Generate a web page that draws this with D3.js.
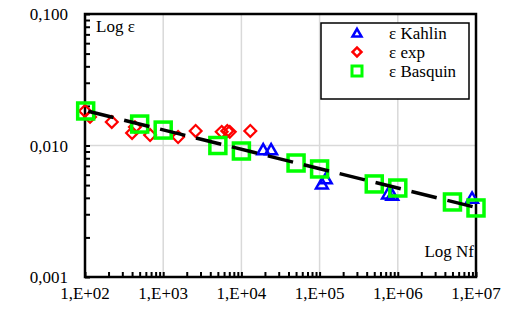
<!DOCTYPE html>
<html>
<head>
<meta charset="utf-8">
<script src="https://cdn.jsdelivr.net/npm/d3@7"></script>
<style>
  body { margin: 0; background: #fff; }
  text { font-family: "Liberation Serif", "Times New Roman", serif; }
</style>
</head>
<body>
<svg id="chart" width="525" height="326"></svg>
<script>
// Kahlin strain (triangles)
kahlinN = [19000, 24000, 107000, 120000, 750000, 850000, 8900000]
kahlinE = [0.0091, 0.0091, 0.0050, 0.00547, 0.0042, 0.0041, 0.0039]

// experimental strain (diamonds)
expN = [100, 116, 220, 400, 435, 680, 1550, 2600, 5600, 6600, 7100, 13000]
expE = [0.0183, 0.0165, 0.0151, 0.01245, 0.0138, 0.0120, 0.0116, 0.0129, 0.0127, 0.0129, 0.0127, 0.0129]

// Basquin strain (squares)
basquinN = [102, 500, 1000, 5000, 10000, 50000, 100000, 500000, 1000000, 5000000, 10000000]
basquinE = [0.0183, 0.01456, 0.0131, 0.0100, 0.00908, 0.00736, 0.00663, 0.0051, 0.00475, 0.00372, 0.00335]

// Basquin fit line end points
fitN = [110, 10000000]
fitE = [0.0182, 0.00338]

xTickValues = [1e2, 1e3, 1e4, 1e5, 1e6, 1e7]
xTickLabels = ["1,E+02", "1,E+03", "1,E+04", "1,E+05", "1,E+06", "1,E+07"]
yTickValues = [0.001, 0.01, 0.1]
yTickLabels = ["0,001", "0,010", "0,100"]

legendLabels = ["\u03b5 Kahlin", "\u03b5 exp", "\u03b5 Basquin"]

function zip(a, b) {
  return a.map((v, i) => ({n: v, e: b[i]}))
}

svg = d3.select("#chart")
margin = {left: 85, right: 49, top: 14, bottom: 49}
width = +svg.attr("width")
height = +svg.attr("height")

x = d3.scaleLog()
  .domain([1e2, 1e7])
  .range([margin.left, width - margin.right])

y = d3.scaleLog()
  .domain([0.001, 0.1])
  .range([height - margin.bottom, margin.top])

// vertical gridlines at each decade
svg.append("g")
  .selectAll("line")
  .data(xTickValues.slice(1, -1))
  .enter().append("line")
  .attr("x1", d => x(d)).attr("x2", d => x(d))
  .attr("y1", y(0.1)).attr("y2", y(0.001))
  .attr("stroke", "#d9d9d9")
  .attr("stroke-width", 1.5);

// horizontal gridline
svg.append("g")
  .selectAll("line")
  .data(yTickValues.slice(1, -1))
  .enter().append("line")
  .attr("x1", x(1e2)).attr("x2", x(1e7))
  .attr("y1", d => y(d)).attr("y2", d => y(d))
  .attr("stroke", "#d9d9d9")
  .attr("stroke-width", 1.5);

// minor ticks, drawn inside the plot
svg.append("g")
  .attr("transform", `translate(0, ${y(0.001)})`)
  .call(d3.axisBottom(x).tickValues(x.ticks()).tickSize(-5).tickFormat(""))
  .call(g => g.select(".domain").remove())
  .call(g => g.selectAll("line").attr("stroke", "#000").attr("stroke-width", 2));

svg.append("g")
  .attr("transform", `translate(${x(1e2)}, 0)`)
  .call(d3.axisLeft(y).tickValues(y.ticks()).tickSize(-5).tickFormat(""))
  .call(g => g.select(".domain").remove())
  .call(g => g.selectAll("line").attr("stroke", "#000").attr("stroke-width", 2));

// plot frame
svg.append("rect")
  .attr("x", x(1e2)).attr("y", y(0.1))
  .attr("width", x(1e7) - x(1e2))
  .attr("height", y(0.001) - y(0.1))
  .attr("fill", "none")
  .attr("stroke", "#000")
  .attr("stroke-width", 2.5);

// tick labels
svg.append("g")
  .selectAll("text")
  .data(xTickValues)
  .enter().append("text")
  .attr("x", d => x(d))
  .attr("y", 299)
  .attr("text-anchor", "middle")
  .attr("font-size", 17)
  .text((d, i) => xTickLabels[i]);

svg.append("g")
  .selectAll("text")
  .data(yTickValues)
  .enter().append("text")
  .attr("x", 68)
  .attr("y", (d, i) => y(d) + (i == 0 ? 6 : 6))
  .attr("text-anchor", "end")
  .attr("font-size", 17)
  .text((d, i) => yTickLabels[i]);

// axis titles inside the plot
svg.append("text")
  .attr("x", 96).attr("y", 32)
  .attr("font-size", 17)
  .text("Log \u03b5");

svg.append("text")
  .attr("x", 474).attr("y", 257)
  .attr("text-anchor", "end")
  .attr("font-size", 17)
  .text("Log Nf");

// symbols
const tri = d3.symbol().type(d3.symbolTriangle).size(60)
const dia = d3.symbol().type(d3.symbolSquare).size(70)

function drawDiamonds(g, data) {
  g.selectAll("path.dia")
    .data(data)
    .enter().append("path")
    .attr("class", "dia")
    .attr("d", dia)
    .attr("transform", d => `translate(${x(d.n)},${y(d.e)}) rotate(45)`)
    .attr("fill", "none")
    .attr("stroke", "#ff0000")
    .attr("stroke-width", 2.2);
}

function drawTriangles(g, data) {
  g.selectAll("path.tri")
    .data(data)
    .enter().append("path")
    .attr("class", "tri")
    .attr("d", tri)
    .attr("transform", d => `translate(${x(d.n)},${y(d.e)})`)
    .attr("fill", "none")
    .attr("stroke", "#0000ff")
    .attr("stroke-width", 2.5);
}

function drawSquares(g, data) {
  g.selectAll("rect.sq")
    .data(data)
    .enter().append("rect")
    .attr("class", "sq")
    .attr("x", d => x(d.n) - 8)
    .attr("y", d => y(d.e) - 8)
    .attr("width", 16)
    .attr("height", 16)
    .attr("fill", "none")
    .attr("stroke", "#00ff00")
    .attr("stroke-width", 3.5);
}

const marks = svg.append("g")
drawDiamonds(marks, zip(expN, expE));
drawTriangles(marks, zip(kahlinN, kahlinE));
drawSquares(marks, zip(basquinN, basquinE));

// dashed Basquin fit
svg.append("path")
  .datum(zip(fitN, fitE))
  .attr("fill", "none")
  .attr("stroke", "#000")
  .attr("stroke-width", 3.5)
  .attr("stroke-dasharray", "26,11")
  .attr("d", d3.line().x(d => x(d.n)).y(d => y(d.e)));

// legend
const legend = svg.append("g")
legend.append("rect")
  .attr("x", 321).attr("y", 23)
  .attr("width", 148).attr("height", 76)
  .attr("fill", "#fff")
  .attr("stroke", "#000")
  .attr("stroke-width", 1.5);

legendY = [33, 52, 71]
legend.append("path")
  .attr("d", d3.symbol().type(d3.symbolTriangle).size(35))
  .attr("transform", `translate(357,${legendY[0] + 1})`)
  .attr("fill", "none").attr("stroke", "#0000ff").attr("stroke-width", 2.5);
legend.append("path")
  .attr("d", d3.symbol().type(d3.symbolSquare).size(40))
  .attr("transform", `translate(357,${legendY[1]}) rotate(45)`)
  .attr("fill", "none").attr("stroke", "#ff0000").attr("stroke-width", 2.5);
legend.append("rect")
  .attr("x", 352).attr("y", legendY[2] - 5)
  .attr("width", 10).attr("height", 10)
  .attr("fill", "none").attr("stroke", "#00ff00").attr("stroke-width", 3);

legend.selectAll("text")
  .data(legendLabels)
  .enter().append("text")
  .attr("x", 389)
  .attr("y", (d, i) => legendY[i] + 6)
  .attr("font-size", 17)
  .text(d => d);
</script>
</body>
</html>
